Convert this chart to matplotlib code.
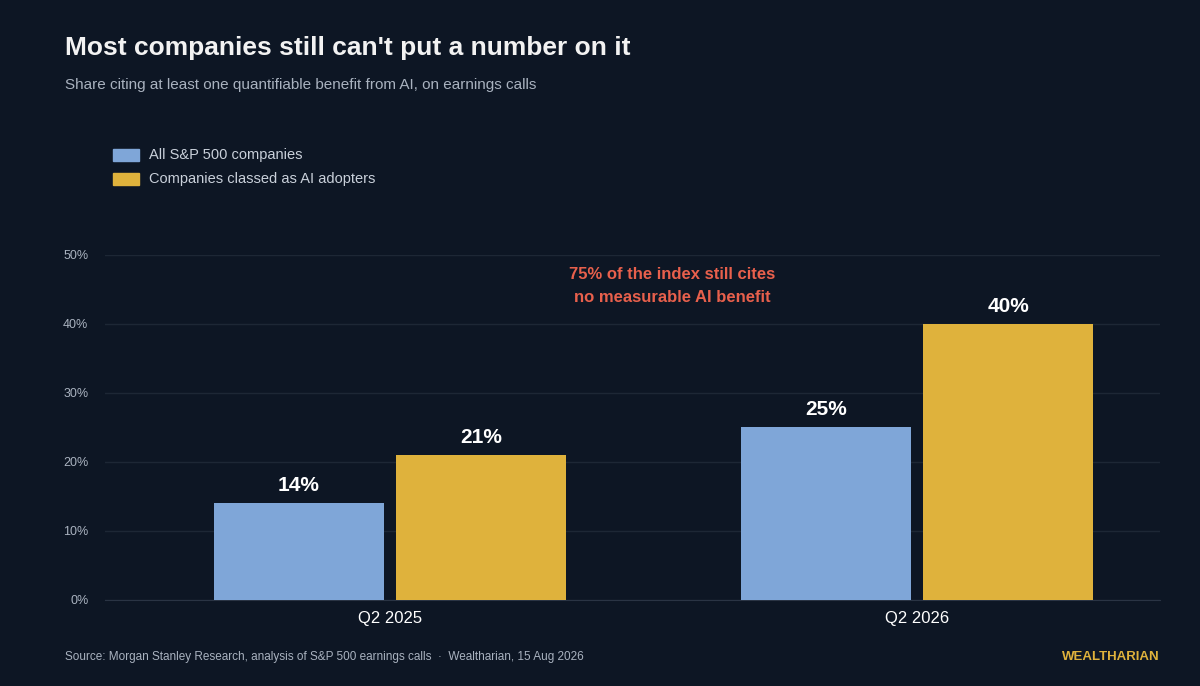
import matplotlib
matplotlib.use("Agg")
import matplotlib.pyplot as plt
from matplotlib.patches import Rectangle

categories = ["Q2 2025", "Q2 2026"]
all_sp500 = [14, 25]
ai_adopters = [21, 40]
series_names = ["All S&P 500 companies", "Companies classed as AI adopters"]
yticks = [0, 10, 20, 30, 40, 50]

BG = "#0d1624"
BLUE = "#7fa6d8"
GOLD = "#dfb23c"
GRID = "#1d2735"

plt.rcParams['font.family'] = ['Liberation Sans', 'DejaVu Sans']
fig = plt.figure(figsize=(12, 6.86), dpi=100, facecolor=BG)
ax = fig.add_axes([0.0875, 0.1254, 0.879, 0.5029], facecolor=BG)

x = range(len(categories))
w = 0.3226
off = 0.173
for i in x:
    ax.bar(i - off, all_sp500[i], w, color=BLUE, zorder=3)
    ax.bar(i + off, ai_adopters[i], w, color=GOLD, zorder=3)
    ax.text(i - off, all_sp500[i] + 1.2, f"{all_sp500[i]}%", ha="center", va="bottom",
            color="white", fontsize=15, fontweight="bold")
    ax.text(i + off, ai_adopters[i] + 1.2, f"{ai_adopters[i]}%", ha="center", va="bottom",
            color="white", fontsize=15, fontweight="bold")

ax.set_xlim(-0.541, 1.461)
ax.set_ylim(0, 50)
ax.set_yticks(yticks)
ax.set_yticklabels([f"{t}%" for t in yticks])
ax.set_xticks(list(x))
ax.set_xticklabels(categories)
ax.tick_params(axis="y", colors="#aab3c0", labelsize=9, length=0, pad=12)
ax.tick_params(axis="x", colors="white", labelsize=12, length=0, pad=8)
ax.grid(axis="y", color=GRID, linewidth=1, zorder=0)
for s in ["top", "right", "left"]:
    ax.spines[s].set_visible(False)
ax.spines["bottom"].set_color("#2a3444")

ax.text(0.536, 45.5, "75% of the index still cites\nno measurable AI benefit", ha="center",
        va="center", color="#e8604c", fontsize=12, fontweight="bold", linespacing=1.6)

fig.text(65/1200, 1 - 48/686, "Most companies still can't put a number on it", color="#f2f2f2",
         fontsize=19, fontweight="bold", va="center")
fig.text(65/1200, 1 - 85/686, "Share citing at least one quantifiable benefit from AI, on earnings calls",
         color="#a9b2bf", fontsize=11, va="center")

for k, (name, col) in enumerate(zip(series_names, [BLUE, GOLD])):
    yy = 1 - (155 + 24 * k) / 686
    fig.patches.append(Rectangle((113/1200, yy - 6/686), 26/1200, 12/686, color=col,
                                 transform=fig.transFigure, figure=fig))
    fig.text(149/1200, yy, name, color="#c9d0da", fontsize=10.5, va="center")

fig.text(65/1200, 1 - 657/686, "Source: Morgan Stanley Research, analysis of S&P 500 earnings calls  ·  Wealtharian, 15 Aug 2026",
         color="#a9b2bf", fontsize=8.5, va="center")
fig.text(1160/1200, 1 - 657/686, "WEALTHARIAN", color=GOLD, fontsize=9.5, fontweight="bold",
         ha="right", va="center")

fig.savefig("out.png", dpi=100, facecolor=BG)
